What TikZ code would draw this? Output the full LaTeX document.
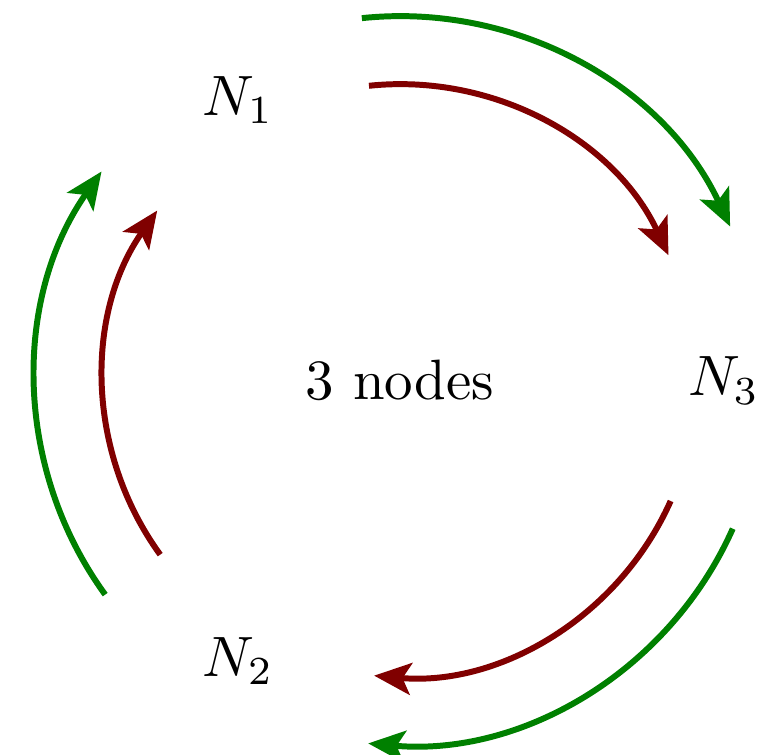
\documentclass[tikz,border=0pt]{standalone}
\usepackage{amsmath}
\usetikzlibrary{positioning,calc,arrows.meta}

\begin{document}
\begin{tikzpicture}[auto]

		\tikzstyle{vertex} = [inner sep=2pt, font=\normalsize]
		\tikzstyle{inner} = [-{Stealth[length=6.5pt, width=5.6pt, inset=1.5pt]}, line width=1.05pt, draw=red!50!black]
		\tikzstyle{outer} = [-{Stealth[length=6.5pt, width=5.6pt, inset=1.5pt]}, line width=1.05pt, draw=green!50!black]

		\useasboundingbox (-2.47,-2.31) rectangle (2.31,2.35);

		\node[vertex] (n1) at (120:2) {$N_1$};
		\node[vertex] (n2) at (240:2) {$N_2$};
		\node[vertex] (n3) at (0:2) {$N_3$};

		\node (label) at (0,0) {3 nodes};

		% n1 -> n3 -> n2 -> n1
		\foreach \a in {120, 0, 240} {
			\draw[inner] (\a-24:1.83) arc (\a-24:\a-95:1.83);
			\draw[outer] (\a-24:2.25) arc (\a-24:\a-95:2.25);
		}

	\end{tikzpicture}
\end{document}
